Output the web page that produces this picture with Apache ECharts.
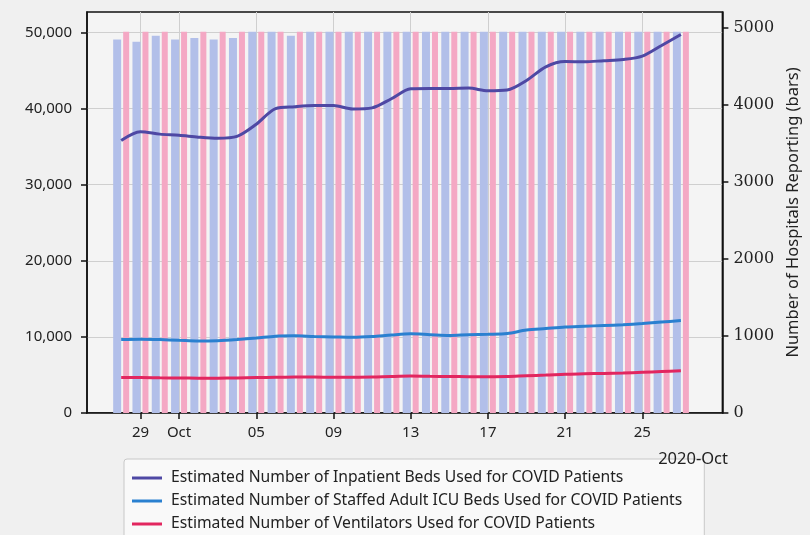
<!DOCTYPE html>
<html>
<head>
<meta charset="utf-8">
<script src="https://cdn.jsdelivr.net/npm/echarts@6/dist/echarts.min.js"></script>
<style>
html,body{margin:0;padding:0;background:#f0f0f0;}
#c{width:810px;height:535px;}
</style>
</head>
<body>
<div id="c"></div>
<script>
// Days: Sep 28 2020 (index 0) .. Oct 27 2020 (index 29)
const dates = ['09-28','09-29','09-30','10-01','10-02','10-03','10-04','10-05','10-06','10-07',
  '10-08','10-09','10-10','10-11','10-12','10-13','10-14','10-15','10-16','10-17',
  '10-18','10-19','10-20','10-21','10-22','10-23','10-24','10-25','10-26','10-27'];
const inpatient = [35800,36950,36650,36500,36250,36100,36350,37950,40000,40250,
  40400,40400,39950,40100,41300,42600,42650,42650,42700,42350,
  42450,43700,45500,46200,46150,46300,46450,46900,48300,49750];
const icu = [9650,9700,9650,9550,9450,9500,9650,9850,10100,10150,
  10050,10000,9950,10050,10250,10400,10300,10200,10300,10350,
  10450,10900,11100,11300,11400,11500,11600,11750,11950,12150];
const vent = [4650,4650,4620,4600,4580,4580,4600,4650,4700,4720,
  4720,4700,4700,4720,4800,4850,4820,4800,4780,4780,
  4800,4900,4980,5100,5150,5200,5250,5350,5450,5550];
const hospBlue = [4850,4820,4900,4850,4870,4850,4870,4950,4950,4900,
  4950,4950,4950,4950,4950,4950,4950,4950,4950,4950,
  4950,4950,4950,4950,4950,4950,4950,4950,4950,4950];
const hospPink = [4950,4950,4950,4950,4950,4950,4950,4950,4950,4950,
  4950,4950,4950,4950,4950,4950,4950,4950,4950,4950,
  4950,4950,4950,4950,4950,4950,4950,4950,4950,4950];
const tickDays = [1,3,7,11,15,19,23,27];
const tickLabels = ['29','Oct','05','09','13','17','21','25'];
const leftTicks = [0,10000,20000,30000,40000,50000];
const rightTicks = [0,1000,2000,3000,4000,5000];

const xy = arr => arr.map((v,i)=>[i,v]);
const chart = echarts.init(document.getElementById('c'));
const sans = 'Noto Sans';
chart.setOption({
  backgroundColor:'#f0f0f0',
  animation:false,
  grid:{left:87,right:81,top:12,bottom:122,show:true,borderColor:'#111',borderWidth:1.5,backgroundColor:'#f4f4f4'},
  legend:{
    data:['Estimated Number of Inpatient Beds Used for COVID Patients',
          'Estimated Number of Staffed Adult ICU Beds Used for COVID Patients',
          'Estimated Number of Ventilators Used for COVID Patients'],
    icon:'rect',
    orient:'vertical',left:124,top:459,height:100,itemWidth:30,itemHeight:3,itemGap:7,
    padding:[11,22,20,8],
    backgroundColor:'#f9f9f9',borderColor:'#c8c8c8',borderWidth:1,borderRadius:3,
    textStyle:{fontFamily:sans,fontSize:15.7,color:'#222',padding:[0,0,0,4]}
  },
  xAxis:{
    type:'value',min:-1.77,max:31.15,
    axisLine:{show:true,onZero:false,lineStyle:{color:'#111',width:1.5}},
    axisTick:{show:true,length:6,customValues:tickDays,lineStyle:{color:'#111',width:1.5}},
    axisLabel:{customValues:tickDays,margin:12,fontFamily:sans,fontSize:15,color:'#222',
      formatter:v=>tickLabels[tickDays.indexOf(Math.round(v))] || ''},
    splitLine:{show:true,lineStyle:{color:'#cfcfcf',width:1}}
  },
  yAxis:[{
    type:'value',min:0,max:52700,
    axisLine:{show:true,onZero:false,lineStyle:{color:'#111',width:1.5}},
    axisTick:{show:true,length:6,customValues:leftTicks,lineStyle:{color:'#111',width:1.5}},
    axisLabel:{customValues:leftTicks,margin:15,fontFamily:sans,fontSize:15,color:'#222',
      formatter:v=>v.toLocaleString('en-US')},
    splitLine:{show:true,lineStyle:{color:'#cfcfcf',width:1}}
  },{
    type:'value',min:0,max:5208,position:'right',
    name:'Number of Hospitals Reporting (bars)',nameLocation:'middle',nameRotate:90,nameGap:62,
    nameTextStyle:{fontFamily:sans,fontSize:16.5,color:'#222'},
    axisLine:{show:true,onZero:false,lineStyle:{color:'#111',width:1.5}},
    axisTick:{show:true,length:6,customValues:rightTicks,lineStyle:{color:'#111',width:1.5}},
    axisLabel:{customValues:rightTicks,margin:11,fontFamily:'DejaVu Serif',fontSize:16,color:'#222',
      formatter:v=>String(v)},
    splitLine:{show:false}
  }],
  graphic:[{type:'text',right:82,top:451,z:100,style:{text:'2020-Oct',fontFamily:sans,fontSize:16.5,fill:'#222'}}],
  series:[
    {name:'bars1',type:'bar',yAxisIndex:1,data:xy(hospBlue),barWidth:8,barGap:'25%',
      itemStyle:{color:'#b2bfe9'},z:1},
    {name:'bars2',type:'bar',yAxisIndex:1,data:xy(hospPink),barWidth:6,
      itemStyle:{color:'#f4a8c4'},z:1},
    {name:'Estimated Number of Inpatient Beds Used for COVID Patients',type:'line',yAxisIndex:0,
      data:xy(inpatient),symbol:'none',smooth:0.3,lineStyle:{color:'#4e48a4',width:3},itemStyle:{color:'#4e48a4'},z:5},
    {name:'Estimated Number of Staffed Adult ICU Beds Used for COVID Patients',type:'line',yAxisIndex:0,
      data:xy(icu),symbol:'none',smooth:0.3,lineStyle:{color:'#2a80d0',width:3},itemStyle:{color:'#2a80d0'},z:5},
    {name:'Estimated Number of Ventilators Used for COVID Patients',type:'line',yAxisIndex:0,
      data:xy(vent),symbol:'none',smooth:0.3,lineStyle:{color:'#e2265f',width:3},itemStyle:{color:'#e2265f'},z:5}
  ]
});
</script>
</body>
</html>
